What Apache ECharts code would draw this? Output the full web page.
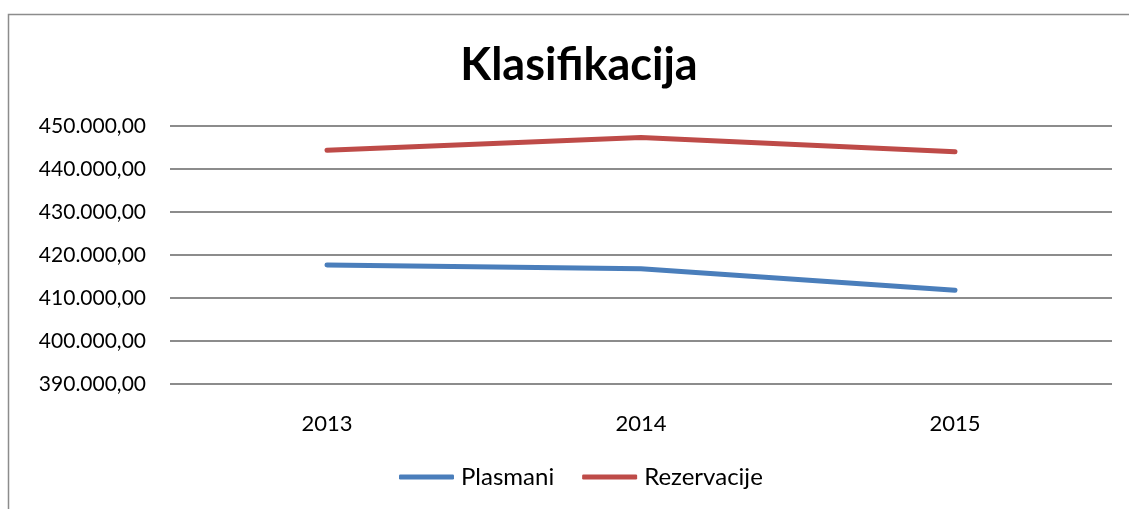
<!DOCTYPE html>
<html>
<head>
<meta charset="utf-8">
<script src="https://cdn.jsdelivr.net/npm/echarts@6/dist/echarts.min.js"></script>
<style>
	html, body { margin: 0; padding: 0; background: #fff; }
	#chart { width: 1129px; height: 509px; }
</style>
</head>
<body>
<div id="chart"></div>
<script>
	/*---------- 数据 ----------*/
	var years = ['2013', '2014', '2015'];
	var plasmani = [417700, 416800, 411800];
	var rezervacije = [444350, 447300, 444000];
	var seriesNames = ['Plasmani', 'Rezervacije'];
	/*----------------------------------*/

	var fontFam = 'Lato, "Open Sans", sans-serif';

	function fmt(v) {
		var s = String(Math.round(v));
		s = s.replace(/\B(?=(\d{3})+(?!\d))/g, '.');
		return s + ',00';
	}

	var myChart = echarts.init(document.getElementById('chart'));
	myChart.setOption({
		animation: false,
		backgroundColor: '#fff',
		graphic: [{
			type: 'rect',
			shape: { x: 8.5, y: 14.5, width: 1140, height: 520 },
			style: { fill: 'none', stroke: '#8c8c8c', lineWidth: 1.5 },
			silent: true
		}],
		title: {
			text: 'Klasifikacija',
			left: 574,
			textAlign: 'center',
			top: 38,
			textStyle: {
				fontFamily: fontFam,
				fontSize: 45,
				fontWeight: 'bold',
				color: '#000'
			}
		},
		legend: {
			bottom: 15,
			left: 394,
			itemWidth: 55,
			itemHeight: 5,
			itemGap: 28,
			icon: 'roundRect',
			textStyle: {
				fontFamily: fontFam,
				fontSize: 24,
				color: '#000',
				padding: [0, 0, 0, 2]
			},
			data: seriesNames
		},
		grid: {
			left: 170,
			right: 17,
			top: 126,
			height: 258
		},
		xAxis: {
			type: 'category',
			data: years,
			boundaryGap: true,
			axisLine: { show: false },
			axisTick: { show: false },
			axisLabel: {
				margin: 29,
				fontFamily: fontFam,
				fontSize: 22,
				color: '#000'
			}
		},
		yAxis: {
			type: 'value',
			min: 390000,
			max: 450000,
			interval: 10000,
			axisLine: { show: false },
			axisTick: { show: false },
			axisLabel: {
				margin: 24,
				fontFamily: fontFam,
				fontSize: 21,
				color: '#000',
				formatter: fmt
			},
			splitLine: {
				lineStyle: { color: '#8c8c8c', width: 2 }
			}
		},
		series: [
			{
				name: seriesNames[0],
				type: 'line',
				data: plasmani,
				symbol: 'none',
				color: '#4a7ebb',
				lineStyle: { width: 5, cap: 'round', join: 'round' }
			},
			{
				name: seriesNames[1],
				type: 'line',
				data: rezervacije,
				symbol: 'none',
				color: '#be4b48',
				lineStyle: { width: 5, cap: 'round', join: 'round' }
			}
		]
	});
</script>
</body>
</html>
